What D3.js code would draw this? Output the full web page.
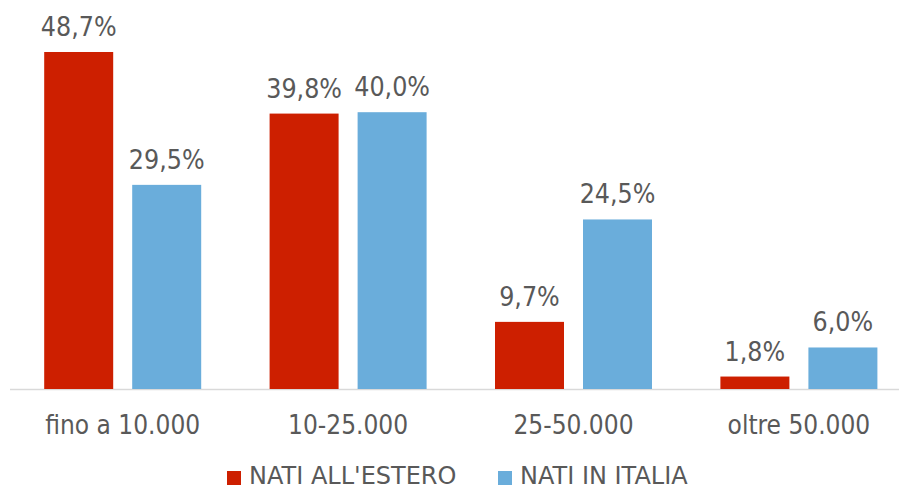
<!DOCTYPE html>
<html><head><meta charset="utf-8">
<script src="https://cdn.jsdelivr.net/npm/d3@7"></script>
<style>body{margin:0;background:#fff}svg{display:block}</style>
</head><body>
<svg id="c" width="899" height="490"></svg>
<script>
const categories = ["fino a 10.000", "10-25.000", "25-50.000", "oltre 50.000"];
const seriesNames = ["NATI ALL'ESTERO", "NATI IN ITALIA"];
const estero = [48.7, 39.8, 9.7, 1.8];
const italia = [29.5, 40.0, 24.5, 6.0];
const colors = ["#cd1f00", "#6aaddb"];

const svg = d3.select("#c");
const font = "'DejaVu Sans Condensed', 'DejaVu Sans', sans-serif";
const x0 = d3.scaleBand().domain(categories).range([10, 911.6]).padding(0);
const x1 = d3.scaleBand().domain(seriesNames).range([34.2, 191.2]).paddingInner(0.216).paddingOuter(0);
const y = d3.scaleLinear().domain([0, 50]).range([389, 43]);

const data = categories.map((c, i) => ({c, vals: [estero[i], italia[i]]}));

svg.append("line").attr("x1", 10).attr("x2", 899).attr("y1", y(0)+0.5).attr("y2", y(0)+0.5)
  .attr("stroke", "#d9d9d9").attr("stroke-width", 1.5);

const g = svg.selectAll("g.cat").data(data).join("g").attr("transform", d => `translate(${x0(d.c)},0)`);
g.selectAll("rect").data(d => d.vals.map((v, j) => ({v, j}))).join("rect")
  .attr("x", d => x1(seriesNames[d.j])).attr("width", x1.bandwidth())
  .attr("y", d => y(d.v)).attr("height", d => y(0) - y(d.v))
  .attr("fill", d => colors[d.j]);
g.selectAll("text.v").data(d => d.vals.map((v, j) => ({v, j}))).join("text")
  .attr("class", "v")
  .attr("x", d => x1(seriesNames[d.j]) + x1.bandwidth()/2)
  .attr("y", d => y(d.v) - 16)
  .attr("text-anchor", "middle").attr("font-family", font).attr("font-size", 26.5)
  .attr("fill", "#595959")
  .text(d => d.v.toFixed(1).replace(".", ",") + "%");

const xAxis = svg.append("g").attr("transform", `translate(0,${y(0)})`)
  .call(d3.axisBottom(x0).tickSize(0).tickPadding(0));
xAxis.select(".domain").remove();
xAxis.selectAll("text").attr("dy", null).attr("y", 45).attr("font-family", font).attr("font-size", 26).attr("fill", "#595959");

const leg = svg.append("g");
const legX = [227, 498];
seriesNames.forEach((s, i) => {
  leg.append("rect").attr("x", legX[i]).attr("y", 471).attr("width", 14).attr("height", 14).attr("fill", colors[i]);
  leg.append("text").attr("x", legX[i] + 22).attr("y", 484).attr("font-family", "'DejaVu Sans', sans-serif").attr("font-size", 24)
    .attr("fill", "#595959").text(s);
});
</script>
</body></html>
